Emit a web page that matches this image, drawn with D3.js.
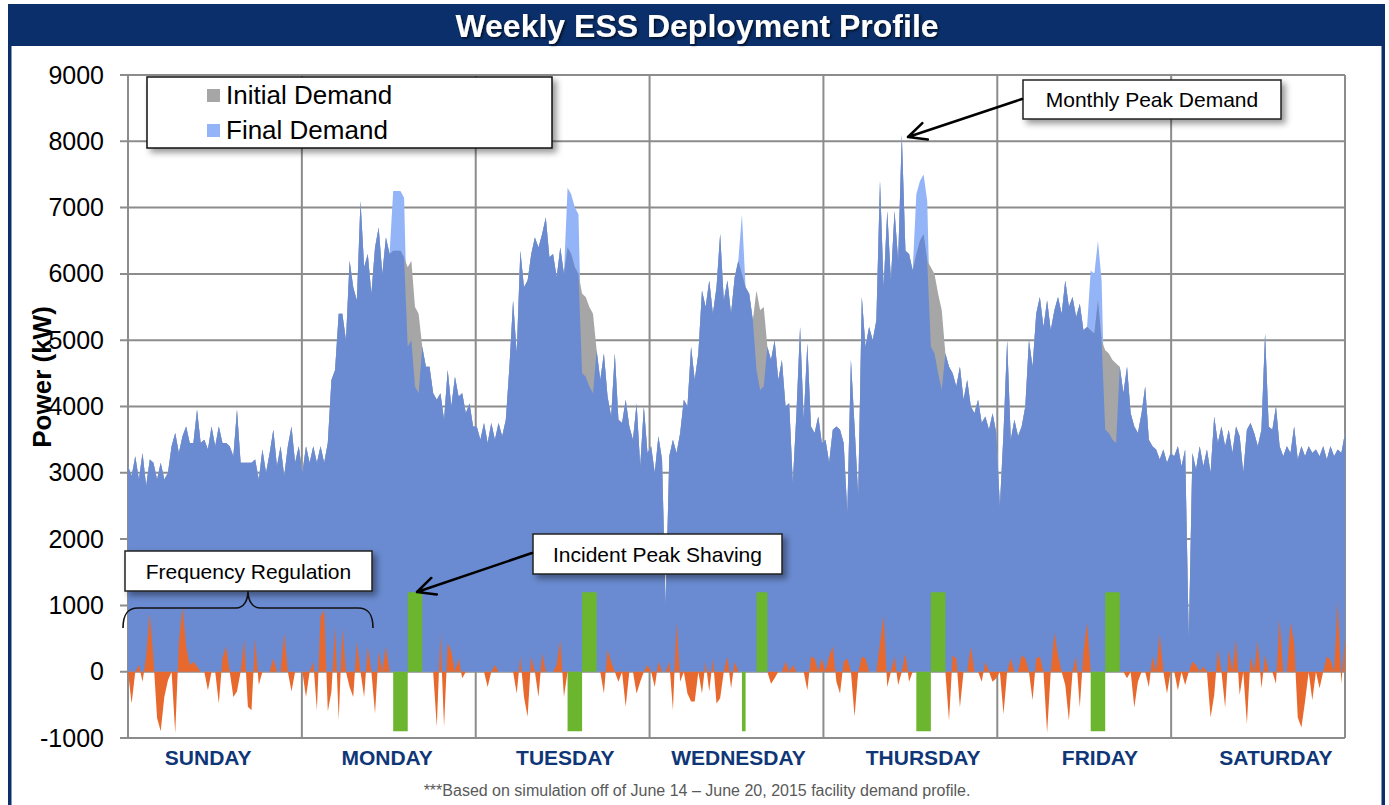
<!DOCTYPE html>
<html><head><meta charset="utf-8">
<script src="https://cdn.jsdelivr.net/npm/d3@7"></script>
<style>
html,body{margin:0;padding:0;background:#fff;}
svg{display:block;font-family:"Liberation Sans",Arial,Helvetica,sans-serif;}
</style></head><body>
<svg id="c" width="1389" height="805"></svg>
<script>
// ---------------- DATA ----------------
const titleText = "Weekly ESS Deployment Profile";
const yAxisTitle = "Power (kW)";
const footnote = "***Based on simulation off of June 14 \u2013 June 20, 2015 facility demand profile.";
const dayNames = ["SUNDAY","MONDAY","TUESDAY","WEDNESDAY","THURSDAY","FRIDAY","SATURDAY"];
// hour of the week at which each day label is centred
const dayLabelHour = [11.0, 35.7, 60.3, 84.2, 109.7, 134.1, 158.4];
const yTicks = [-1000,0,1000,2000,3000,4000,5000,6000,7000,8000,9000];
const legendLabels = ["Initial Demand","Final Demand"];

// initial facility demand, kW, half-hour samples (48 per day, Sunday..Saturday)
const initialDemand = [
  3100,2950,3250,2900,3300,2800,3200,3150,2900,3150,2900,3000,3400,3600,3300,3550,3700,3450,3450,3950,3450,3500,3350,3700,3400,3700,3450,3450,3400,3250,3950,3150,3150,3150,3150,3200,2900,3350,3000,3300,3650,3100,3400,2950,3400,3700,3150,3400,
  3000,3400,3150,3400,3150,3400,3150,3450,4400,4550,5400,5400,5000,6200,5800,5600,7100,6100,6300,5700,6400,6700,6000,6550,6300,6350,6350,6350,6250,6100,6200,5500,5400,4900,4600,4600,4200,4100,4200,3800,4550,4000,4450,4150,4200,3900,4050,3700,
  3700,3500,3750,3450,3750,3500,3750,3550,3800,4600,5600,4800,6350,5800,5900,6300,6550,6400,6600,6850,6250,6300,5950,6400,6000,6400,6300,6100,6000,5700,5650,5500,5400,4850,4400,4800,4150,3850,4800,3800,3750,4100,3700,3500,4050,3100,4000,3300,
  3400,3000,3550,3200,1000,3250,3500,3300,3600,4100,4000,4900,4400,4800,5750,5500,5900,5400,5800,6600,5600,5900,5400,5950,6200,6000,5800,5700,5300,5750,5450,5500,4900,4700,5000,4400,4700,4000,4050,2850,3900,5200,3800,4950,3700,3600,3850,3450,
  3500,3150,3650,3700,3650,3450,2400,4700,3700,2650,5650,4900,5200,5000,5300,7400,5800,6950,5900,6950,6200,8100,6350,6300,6050,6300,6500,6600,6200,6100,6000,5700,5450,4800,4600,4500,4300,4600,4100,4400,4000,3900,4100,3750,3850,3650,3900,3600,
  2500,3600,5000,3500,3800,3550,3700,4000,5000,4600,5400,5650,5200,5600,5150,5450,5650,5400,5900,5500,5650,5350,5550,5150,5200,5150,5100,5600,5000,4850,4800,4700,4650,4600,4200,4600,3900,3700,3600,3900,4300,3500,3400,3350,3200,3350,3150,3300,
  3250,3400,3100,3350,500,3300,3050,3400,3100,3350,3000,3850,3450,3700,3400,3650,3300,3700,3550,3000,3650,3750,3600,3400,3650,5100,3700,3650,4000,3400,3250,3400,3300,3700,3200,3400,3250,3400,3300,3350,3250,3400,3200,3400,3250,3350,3300,3600
];

// battery output for incident peak shaving, kW (+ discharge, - charge)
const peakShaving = [
  0,0,0,0,0,0,0,0,0,0,0,0,0,0,0,0,0,0,0,0,0,0,0,0,0,0,0,0,0,0,0,0,0,0,0,0,0,0,0,0,0,0,0,0,0,0,0,0,
  0,0,0,0,0,0,0,0,0,0,0,0,0,0,0,0,0,0,0,0,0,0,0,0,0,-900,-900,-900,-900,1200,1200,1200,1200,0,0,0,0,0,0,0,0,0,0,0,0,0,0,0,
  0,0,0,0,0,0,0,0,0,0,0,0,0,0,0,0,0,0,0,0,0,0,0,0,0,-900,-900,-900,-900,1200,1200,1200,1200,0,0,0,0,0,0,0,0,0,0,0,0,0,0,0,
  0,0,0,0,0,0,0,0,0,0,0,0,0,0,0,0,0,0,0,0,0,0,0,0,0,-900,0,0,0,1200,1200,1200,0,0,0,0,0,0,0,0,0,0,0,0,0,0,0,0,
  0,0,0,0,0,0,0,0,0,0,0,0,0,0,0,0,0,0,0,0,0,0,0,0,0,-900,-900,-900,-900,1200,1200,1200,1200,0,0,0,0,0,0,0,0,0,0,0,0,0,0,0,
  0,0,0,0,0,0,0,0,0,0,0,0,0,0,0,0,0,0,0,0,0,0,0,0,0,-900,-900,-900,-900,1200,1200,1200,1200,0,0,0,0,0,0,0,0,0,0,0,0,0,0,0,
  0,0,0,0,0,0,0,0,0,0,0,0,0,0,0,0,0,0,0,0,0,0,0,0,0,0,0,0,0,0,0,0,0,0,0,0,0,0,0,0,0,0,0,0,0,0,0,0
];

// battery output for frequency regulation, kW
const frequencyRegulation = [
  0,-480,0,100,-150,230,880,200,-700,-900,-380,-130,0,-930,430,980,380,100,150,80,0,0,-280,0,0,-480,200,380,0,-380,-300,0,480,-530,-580,500,-200,0,0,0,200,0,0,580,0,-300,0,0,
  0,-380,0,150,-580,830,930,-600,-300,680,-730,650,0,-230,-380,450,0,-380,380,0,-630,300,0,380,0,0,0,0,0,0,0,0,0,0,0,0,0,-830,580,-830,430,300,0,200,-100,0,0,0,
  0,0,0,-230,0,100,0,0,0,0,0,-330,230,-380,-680,230,0,-380,280,0,0,0,100,480,-380,0,0,0,0,0,0,0,0,0,0,-330,330,150,0,-150,0,-530,0,0,-330,-150,0,100,
  0,-230,150,0,0,150,-580,750,-150,0,-330,-450,-450,0,-330,150,-300,200,-480,-400,0,230,-250,150,0,0,0,0,0,0,0,0,0,-180,-100,0,0,150,0,100,0,0,0,-280,230,200,0,200,
  0,230,380,-150,-330,150,200,0,-680,0,230,200,0,0,0,430,840,-230,0,230,-200,0,280,-150,0,0,0,0,0,0,0,0,0,0,-740,250,200,-540,0,0,380,0,0,-150,150,0,-150,-100,
  0,-640,0,200,0,0,250,200,0,-430,200,230,0,-920,0,590,250,0,-200,-740,0,230,-540,300,740,0,0,0,0,0,0,0,0,0,0,-100,0,-540,-150,0,0,-230,230,0,560,0,-330,0,
  0,-280,0,-200,0,150,100,0,80,0,-690,-350,330,0,-540,330,0,490,-350,0,-790,230,0,460,-250,250,0,0,-180,790,0,0,740,430,-690,-840,-450,0,-430,0,-250,0,230,180,0,1050,-180,520
];

// final demand after the battery
const finalDemand = initialDemand.map((v,i) => v - peakShaving[i]);
const shownDemand = initialDemand.map((v,i) => Math.min(v, finalDemand[i]));

// ---------------- DRAW ----------------
const svg = d3.select("#c");
const NAVY = "#0b2f6a";
const defs = svg.append("defs");
const sh = defs.append("filter").attr("id","shadow").attr("x","-10%").attr("y","-20%").attr("width","130%").attr("height","160%");
sh.append("feDropShadow").attr("dx",4).attr("dy",4).attr("stdDeviation",3).attr("flood-color","#000").attr("flood-opacity",0.4);
const tsh = defs.append("filter").attr("id","tshadow").attr("x","-5%").attr("y","-30%").attr("width","110%").attr("height","160%");
tsh.append("feDropShadow").attr("dx",1.5).attr("dy",1.5).attr("stdDeviation",1).attr("flood-color","#000").attr("flood-opacity",0.7);

// frame
svg.append("rect").attr("x",8).attr("y",4).attr("width",1377).attr("height",42).attr("fill",NAVY);
svg.append("rect").attr("x",8).attr("y",4).attr("width",3.5).attr("height",801).attr("fill",NAVY);
svg.append("rect").attr("x",1381.5).attr("y",4).attr("width",3.5).attr("height",801).attr("fill",NAVY);
svg.append("text").attr("x",697).attr("y",37).attr("text-anchor","middle")
  .attr("font-size",32).attr("font-weight","bold").attr("fill","#fff").attr("filter","url(#tshadow)").text(titleText);

const N = initialDemand.length;
const x = d3.scaleLinear().domain([0, N-1]).range([128, 1345]);
const xh = d3.scaleLinear().domain([0, 168]).range([128, 1345]);
const y = d3.scaleLinear().domain([-1000, 9000]).range([738, 75]);

// grid
const grid = svg.append("g").attr("stroke","#8c8c8c").attr("stroke-width",2);
grid.selectAll("line.h").data(yTicks).join("line").attr("class","h")
  .attr("x1",120).attr("x2",1345).attr("y1",d=>y(d)).attr("y2",d=>y(d));
grid.selectAll("line.v").data(d3.range(0,8)).join("line").attr("class","v")
  .attr("x1",d=>xh(d*24)).attr("x2",d=>xh(d*24)).attr("y1",y(9000)).attr("y2",y(-1000));

// areas
const mk = (arr, curve) => d3.area().x((d,i)=>x(i)).y0(y(0)).y1((d,i)=>y(arr[i])).curve(curve || d3.curveLinear);
svg.append("path").datum(finalDemand).attr("d", mk(finalDemand)).attr("fill","#94b4f8");
svg.append("path").datum(initialDemand).attr("d", mk(initialDemand)).attr("fill","#a6a6a6");
svg.append("path").datum(shownDemand).attr("d", mk(shownDemand)).attr("fill","#6a8bd1");
svg.append("path").datum(frequencyRegulation).attr("d", mk(frequencyRegulation)).attr("fill","#e8692d");
svg.append("path").datum(peakShaving).attr("d", mk(peakShaving, d3.curveStepAfter)).attr("fill","#6cb52e");

// y axis labels
const ya = svg.append("g").attr("transform","translate(128,0)")
  .call(d3.axisLeft(y).tickValues(yTicks).tickSize(0).tickPadding(24).tickFormat(d => String(d)));
ya.select(".domain").remove();
ya.selectAll("text").attr("font-size",25).attr("font-family","Liberation Sans, Arial, sans-serif").attr("fill","#000");

// x axis labels
const xa = svg.append("g").attr("transform",`translate(0,${y(-1000)})`)
  .call(d3.axisBottom(xh).tickValues(dayLabelHour).tickSize(0).tickPadding(12).tickFormat((d,i)=>dayNames[i]));
xa.select(".domain").remove();
xa.selectAll("text").attr("font-size",21).attr("font-weight","bold").attr("font-family","Liberation Sans, Arial, sans-serif").attr("fill","#0f3677");

// y title
svg.append("text").attr("transform","translate(51,377) rotate(-90)").attr("text-anchor","middle")
  .attr("font-size",26).attr("font-weight","bold").attr("fill","#000").text(yAxisTitle);

// footnote
svg.append("text").attr("x",697).attr("y",796).attr("text-anchor","middle")
  .attr("font-size",16).attr("fill","#595959").text(footnote);

// legend
const lg = svg.append("g");
lg.append("rect").attr("x",147).attr("y",77).attr("width",405).attr("height",71)
  .attr("fill","#fff").attr("stroke","#111").attr("stroke-width",1.5).attr("filter","url(#shadow)");
const legColors = ["#a6a6a6","#94b4f8"];
legendLabels.forEach((t,i)=>{
  const cy = 95 + i*35;
  lg.append("rect").attr("x",207).attr("y",cy-6).attr("width",13).attr("height",13).attr("fill",legColors[i]);
  lg.append("text").attr("x",226).attr("y",cy+9).attr("font-size",26).attr("fill","#000").text(t);
});

// annotation boxes
function box(x0,y0,w,h,t){
  svg.append("rect").attr("x",x0).attr("y",y0).attr("width",w).attr("height",h)
    .attr("fill","#fff").attr("stroke","#222").attr("stroke-width",1.5).attr("filter","url(#shadow)");
  svg.append("text").attr("x",x0+w/2).attr("y",y0+h/2+7.5).attr("text-anchor","middle")
    .attr("font-size",21).attr("fill","#000").text(t);
}
function arrow(x1,y1,x2,y2){
  const a = Math.atan2(y1-y2, x1-x2), L = 20, s = 0.45;
  const p = `M${x1},${y1}L${x2},${y2}M${x2+L*Math.cos(a+s)},${y2+L*Math.sin(a+s)}L${x2},${y2}L${x2+L*Math.cos(a-s)},${y2+L*Math.sin(a-s)}`;
  svg.append("path").attr("d",p).attr("fill","none").attr("stroke","#000").attr("stroke-width",2.5)
    .attr("stroke-linecap","round").attr("stroke-linejoin","round");
}
box(1023,80,258,39,"Monthly Peak Demand");
arrow(1022,99,908,137);
box(533,534,249,40,"Incident Peak Shaving");
arrow(532,553,417,592);
box(125,551,247,40,"Frequency Regulation");
svg.append("path").attr("d","M123,628 C123,615 127,608 138,608 L236,608 C244,608 248,600 248,591 C248,600 252,608 260,608 L358,608 C369,608 373,615 373,628")
  .attr("fill","none").attr("stroke","#111").attr("stroke-width",1.6);
</script>
</body></html>
